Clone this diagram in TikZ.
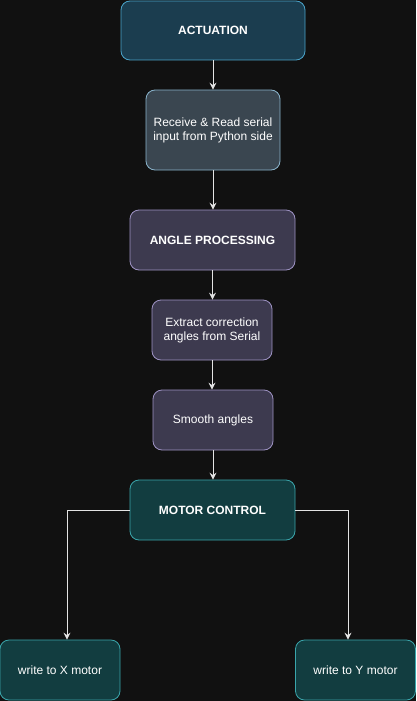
\documentclass[tikz,border=0pt]{standalone}
\usepackage{fontspec}
\setmainfont{Liberation Sans}
\usetikzlibrary{arrows.meta}
\usetikzlibrary{positioning}
\definecolor{bgdark}{HTML}{111111}
\definecolor{tealfill}{HTML}{1B3D4F}
\definecolor{tealline}{HTML}{4AA3C9}
\definecolor{slatefill}{HTML}{3A4650}
\definecolor{slateline}{HTML}{8AB4CC}
\definecolor{violetfill}{HTML}{3D3A4F}
\definecolor{violetline}{HTML}{9E93C4}
\definecolor{motorfill}{HTML}{123D40}
\definecolor{motorline}{HTML}{3AA5AB}
\definecolor{linkgrey}{HTML}{E4E4E4}

\tikzset{
  box/.style={rectangle, rounded corners=9pt, line width=0.8pt, text=white,
    align=center, inner sep=0pt, font=\fontsize{12}{14}\selectfont},
  headbox/.style={box, font=\fontsize{12}{14}\selectfont\bfseries},
  link/.style={draw=linkgrey, line width=0.9pt,
    -{Stealth[length=7pt,width=7pt,inset=2.5pt]}}
}

\begin{document}
\begin{tikzpicture}[x=1pt, y=-1pt]

    \fill [bgdark] (0, 0) rectangle (416, 701);
    \useasboundingbox (0, 0) rectangle (416, 701);

    % top block
    \node [headbox, fill=tealfill, draw=tealline, minimum width=184pt, minimum height=59pt]
      (actuation) at (213, 30.5) {ACTUATION};
    \node [box, fill=slatefill, draw=slateline, minimum width=134pt, minimum height=80pt]
      (receive) at (213, 130) {Receive \& Read serial\\input from Python side};

    % angle block
    \node [headbox, fill=violetfill, draw=violetline, minimum width=165pt, minimum height=60pt]
      (angleproc) at (212.5, 240) {ANGLE PROCESSING};
    \node [box, fill=violetfill, draw=violetline, minimum width=120pt, minimum height=60pt]
      (extract) at (212, 330) {Extract correction\\angles from Serial};
    \node [box, fill=violetfill, draw=violetline, minimum width=120pt, minimum height=60pt]
      (smooth) at (213, 420) {Smooth angles};

    % motor block
    \node [headbox, fill=motorfill, draw=motorline, minimum width=165pt, minimum height=60pt]
      (motorctl) at (212.5, 510) {MOTOR CONTROL};
    \node [box, fill=motorfill, draw=motorline, minimum width=120pt, minimum height=60pt]
      (motorx) at (60, 670) {write to X motor};
    \node [box, fill=motorfill, draw=motorline, minimum width=120pt, minimum height=60pt]
      (motory) at (355.5, 670) {write to Y motor};

    \draw [link] (actuation) -- (receive);
    \draw [link] (receive) -- (receive |- angleproc.north);
    \draw [link] (angleproc) -- (angleproc |- extract.north);
    \draw [link] (extract) -- (extract |- smooth.north);
    \draw [link] (smooth) -- (smooth |- motorctl.north);
    \draw [link] (motorctl.west) -| (67, 0 |- motorx.north);
    \draw [link] (motorctl.east) -| (348, 0 |- motory.north);

\end{tikzpicture}
\end{document}
